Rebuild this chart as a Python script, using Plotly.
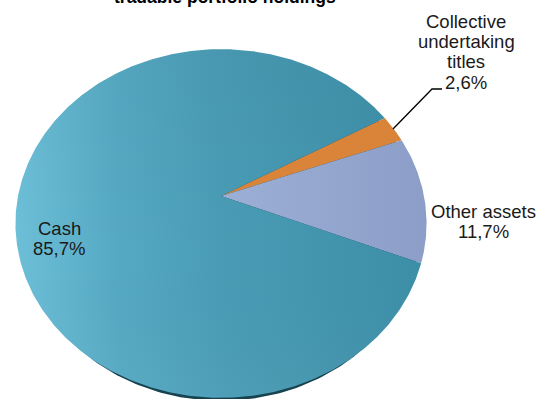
import numpy as np
import plotly.graph_objects as go

# Share of each holding, in percent, clockwise from the start angle
categories = [["Collective", "undertaking", "titles"], ["Other assets"], ["Cash"]]
shares = [2.6, 11.7, 85.7]
slice_fills = [
    [[0, "#d98439"], [1, "#d98439"]],
    [[0, "#9cafd5"], [1, "#8c9ec7"]],
    [[0, "#6dbfd8"], [0.25, "#56a9c3"], [0.5, "#4a9cb6"], [1, "#3c8ea7"]],
]

W, H = 536, 399
APEX = (221, 196)
RX, RY, TILT = 203.0, 170.0, 0.1576   # projected disc: half axes and perspective strength
START_DEG = -29.6
DEPTH = 3
LINE_STEP = 20.4


def rim(t):
    """Project a disc angle (radians, clockwise from east) to the page."""
    d = 1 - TILT * np.sin(t)
    return APEX[0] + RX * np.cos(t) / d, APEX[1] + RY * np.sin(t) / d


fig = go.Figure()
edges = START_DEG + 3.6 * np.concatenate([[0], np.cumsum(shares)])

# Dark side wall peeking out beneath the disc, slightly narrower than the top face
t_all = np.radians(np.linspace(0, 360, 361))
wx, wy = rim(t_all)
xmin, xmax = wx.min(), wx.max()
xmid = (xmin + xmax) / 2
fig.add_trace(go.Scatter(x=xmid + (wx - xmid) * 0.97, y=wy + DEPTH, mode="lines", fill="toself",
                         fillcolor="#17424f", line=dict(width=0), hoverinfo="skip"))

for share, a0, a1, scale in zip(shares, edges[:-1], edges[1:], slice_fills):
    t = np.radians(np.linspace(a0, a1, max(int(a1 - a0) * 2, 8)))
    px, py = rim(t)
    xs = np.r_[APEX[0], px, APEX[0]]
    ys = np.r_[APEX[1], py, APEX[1]]
    span = (xmin, xmax) if share > 50 else (xs.min(), xs.max())
    fig.add_trace(go.Scatter(
        x=xs, y=ys, mode="lines", line=dict(width=0), hoverinfo="skip", fill="toself",
        fillgradient=dict(type="horizontal", colorscale=scale, start=span[0], stop=span[1]),
    ))

# Vertical shading so the large slice lightens toward the lower left
t = np.radians(np.linspace(edges[2], edges[3], 620))
px, py = rim(t)
fig.add_trace(go.Scatter(
    x=np.r_[APEX[0], px, APEX[0]], y=np.r_[APEX[1], py, APEX[1]],
    mode="lines", line=dict(width=0), hoverinfo="skip", fill="toself",
    fillgradient=dict(type="vertical",
                      colorscale=[[0, "rgba(0,0,0,0.03)"], [0.6, "rgba(0,0,0,0.0)"],
                                  [1, "rgba(255,255,255,0.03)"]],
                      start=49, stop=398),
))

# Leader for the smallest slice
fig.add_trace(go.Scatter(x=[393, 432, 442], y=[129, 89, 89], mode="lines",
                         line=dict(color="#000000", width=1.3), hoverinfo="skip"))


def pct(v):
    return f"{v:.1f}".replace(".", ",") + "%"


# Each label line is placed on its own to hold the tight line spacing
label_at = [(466, 21), (483, 211), (59, 228)]
for name_lines, share, (lx, ly) in zip(categories, shares, label_at):
    for i, line in enumerate(name_lines + [pct(share)]):
        fig.add_annotation(x=lx, y=ly + i * LINE_STEP, text=line, showarrow=False,
                           font=dict(family="Liberation Sans", size=18.5, color="#1a1a1a"),
                           xanchor="center", yanchor="middle")

fig.add_annotation(xref="x", yref="paper", x=225, y=1.0 - 9 / H,
                   text="<b>tradable portfolio holdings</b>", showarrow=False,
                   font=dict(family="Liberation Sans", size=17.5, color="#000000"),
                   xanchor="center", yanchor="bottom")

fig.update_layout(
    width=W, height=H, margin=dict(l=0, r=0, t=0, b=0), showlegend=False,
    paper_bgcolor="#ffffff", plot_bgcolor="#ffffff",
    xaxis=dict(range=[0, W], visible=False, fixedrange=True),
    yaxis=dict(range=[H, 0], visible=False, fixedrange=True),
)
fig.write_html("out.html", config=dict(displayModeBar=False))
